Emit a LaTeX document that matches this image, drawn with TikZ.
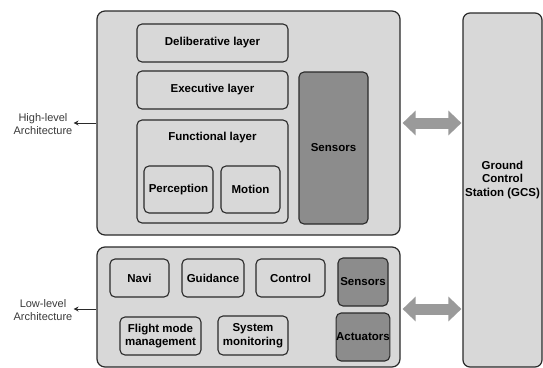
\documentclass[tikz,border=0pt]{standalone}
\usepackage{fontspec}
\setmainfont{Liberation Sans}
\usetikzlibrary{arrows.meta}
\definecolor{boxfill}{HTML}{D8D8D8}
\definecolor{darkfill}{HTML}{8C8C8C}
\definecolor{edge}{HTML}{2A2A2A}
\definecolor{arrowgray}{HTML}{9A9A9A}
\definecolor{labelgray}{HTML}{3A3A3A}
\tikzset{
  outerbox/.style={draw=edge, line width=1.2pt, fill=boxfill, rounded corners=8pt, inner sep=0pt},
  innerbox/.style={draw=edge, line width=1.1pt, fill=boxfill, rounded corners=5pt, inner sep=0pt,
    font=\fontsize{11.5}{13.5}\selectfont\bfseries, text=black, align=center},
  darkbox/.style={innerbox, fill=darkfill},
  sidelabel/.style={font=\fontsize{11}{13}\selectfont, text=labelgray, align=center, inner sep=1pt},
  bigarrow/.style={draw=arrowgray, line width=11pt, {Triangle[length=13pt,width=24pt]}-{Triangle[length=13pt,width=24pt]}, shorten <=2pt, shorten >=1pt},
  smallarrow/.style={draw=edge, line width=0.9pt, -{Stealth[length=5pt,width=5pt]}}
}
\begin{document}
\begin{tikzpicture}[x=1pt,y=-1pt]
\useasboundingbox (0,0) rectangle (543,367);
% top architecture
\node[outerbox, minimum width=303pt, minimum height=224pt] (top) at (248.5,123) {};
\node[innerbox, minimum width=151pt, minimum height=38pt] (delib) at (212.5,43) {Deliberative layer};
\node[innerbox, minimum width=151pt, minimum height=38pt] (exec) at (212.5,90) {Executive layer};
\node[innerbox, minimum width=151pt, minimum height=103pt] (func) at (212.5,171.5) {};
\node[innerbox, draw=none, fill=none] (functxt) at (212.5,138) {Functional layer};
\node[innerbox, minimum width=69pt, minimum height=47pt] (perc) at (178.5,189.5) {Perception};
\node[innerbox, minimum width=59pt, minimum height=47pt] (motion) at (250.5,189.5) {Motion};
\node[darkbox, minimum width=69pt, minimum height=152pt] (sensT) at (333.5,148) {Sensors};
% ground control station
\node[outerbox, rounded corners=7pt, minimum width=79pt, minimum height=354pt] (gcs) at (502.5,190) {};
\node[innerbox, draw=none, fill=none, font=\fontsize{11.5}{13.5}\selectfont\bfseries] (gcstxt) at (502.5,180) {Ground\\Control\\Station (GCS)};
% bottom architecture
\node[outerbox, minimum width=303pt, minimum height=120pt] (bot) at (248.5,307) {};
\node[innerbox, minimum width=59pt, minimum height=38pt] (navi) at (139.5,278) {Navi};
\node[innerbox, minimum width=62pt, minimum height=38pt] (guid) at (213,278) {Guidance};
\node[innerbox, minimum width=69pt, minimum height=38pt] (ctrl) at (290.5,278) {Control};
\node[darkbox, minimum width=50pt, minimum height=48pt] (sensB) at (363,282) {Sensors};
\node[darkbox, minimum width=50pt, minimum height=48pt] (act) at (363,337) {Actuators};
\node[innerbox, minimum width=81pt, minimum height=38pt] (fmm) at (160.5,336) {Flight mode\\management};
\node[innerbox, minimum width=70pt, minimum height=39pt] (sysm) at (253,335.5) {System\\monitoring};
% side labels
\node[sidelabel] (hl) at (43,124) {High-level\\Architecture};
\node[sidelabel] (ll) at (43,310) {Low-level\\Architecture};
\draw[smallarrow] (top.west) -- (hl.east |- top.west);
\coordinate (botw) at ([yshift=-2pt]bot.west);
\draw[smallarrow] (botw) -- (ll.east |- botw);
% double arrows
\draw[bigarrow] (top.east) -- (gcs.west |- top.east);
\coordinate (bote) at ([yshift=-2pt]bot.east);
\draw[bigarrow] (bote) -- (gcs.west |- bote);
\end{tikzpicture}
\end{document}
